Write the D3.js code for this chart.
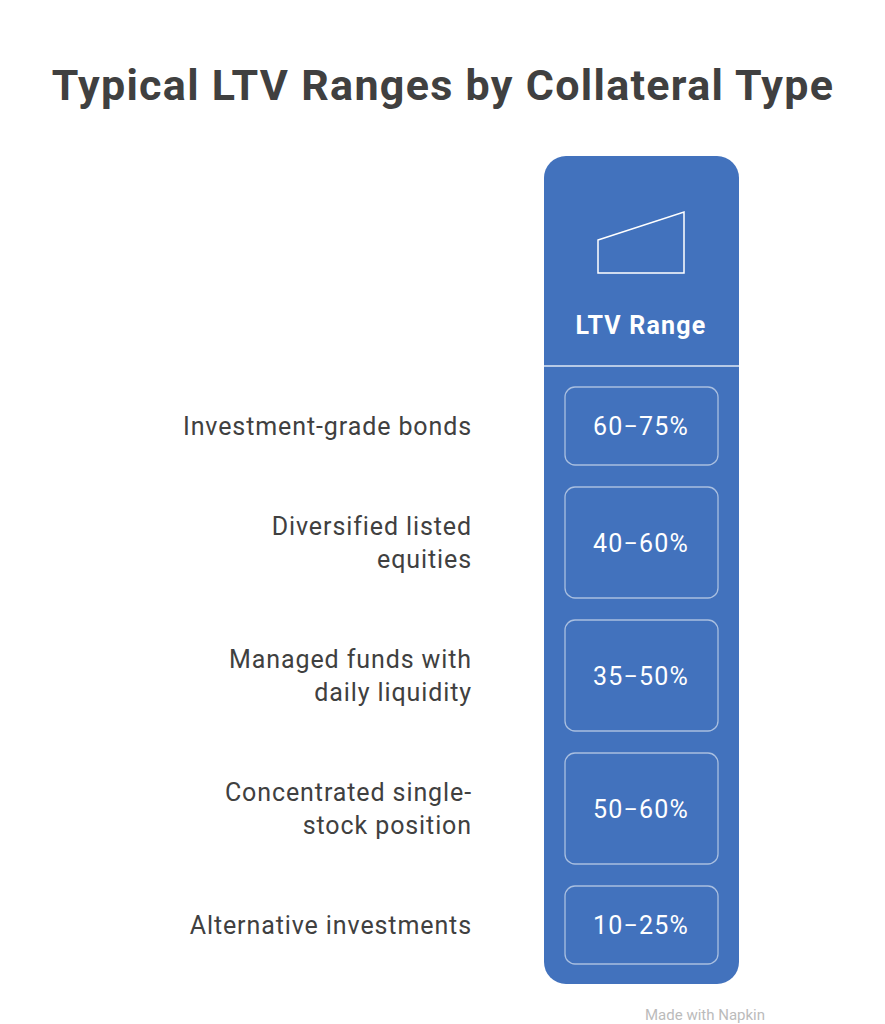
<!DOCTYPE html>
<html><head><meta charset="utf-8">
<script src="https://cdn.jsdelivr.net/npm/d3@7"></script>
<style>body{margin:0;background:#fff}</style></head>
<body><svg id="c" width="885" height="1024"></svg>
<script>
const categories = [["Investment-grade bonds"],["Diversified listed","equities"],["Managed funds with","daily liquidity"],["Concentrated single-","stock position"],["Alternative investments"]];
const ranges = ["60\u221275%","40\u221260%","35\u221250%","50\u221260%","10\u221225%"];
const columnTitle = "LTV Range";
const title = "Typical LTV Ranges by Collateral Type";

const svg = d3.select("#c");
const font = "Roboto, 'Noto Sans', sans-serif";
svg.append("text").attr("x",443).attr("y",100).attr("text-anchor","middle")
  .attr("font-family",font).attr("font-weight",700).attr("font-size",43).attr("letter-spacing",1.3)
  .attr("fill","#404040").text(title);

const blue="#4272bd";
svg.append("rect").attr("x",544).attr("y",156).attr("width",195).attr("height",828).attr("rx",22).attr("fill",blue);
svg.append("line").attr("x1",544).attr("x2",739).attr("y1",366).attr("y2",366).attr("stroke","#dfe8f5").attr("stroke-width",1.5);
svg.append("path").attr("d","M598,240L684,212L684,273L598,273Z").attr("fill","none").attr("stroke","#fff").attr("stroke-width",1.5);
svg.append("text").attr("x",641).attr("y",334).attr("text-anchor","middle").attr("font-family",font)
  .attr("font-weight",700).attr("font-size",25).attr("letter-spacing",1.2).attr("fill","#fff").text(columnTitle);

const heights = categories.map(c => c.length>1 ? 111 : 78);
const gap = 22;
let y0 = 387;
const tops = heights.map(h => { const t=y0; y0+=h+gap; return t; });

const g = svg.selectAll("g.row").data(categories).join("g");
g.append("rect").attr("x",565).attr("width",153).attr("y",(d,i)=>tops[i]).attr("height",(d,i)=>heights[i])
  .attr("rx",10).attr("fill","none").attr("stroke","#a9bfe0").attr("stroke-width",1.3);
g.append("text").attr("x",641).attr("y",(d,i)=>tops[i]+heights[i]/2+9).attr("text-anchor","middle")
  .attr("font-family",font).attr("font-size",25).attr("letter-spacing",1.2).attr("fill","#fff").text((d,i)=>ranges[i]);
g.each(function(d,i){
  const cy = tops[i]+heights[i]/2;
  const n=d.length, lh=33;
  d.forEach((line,k)=>{
    d3.select(this).append("text").attr("x",472).attr("y",cy+(k-(n-1)/2)*lh+9).attr("text-anchor","end")
      .attr("font-family",font).attr("font-size",25).attr("letter-spacing",0.9).attr("fill","#404040").text(line);
  });
});
svg.append("text").attr("x",645).attr("y",1020).attr("font-family",font).attr("font-size",15).attr("fill","#bbb").text("Made with Napkin");
</script></body></html>
